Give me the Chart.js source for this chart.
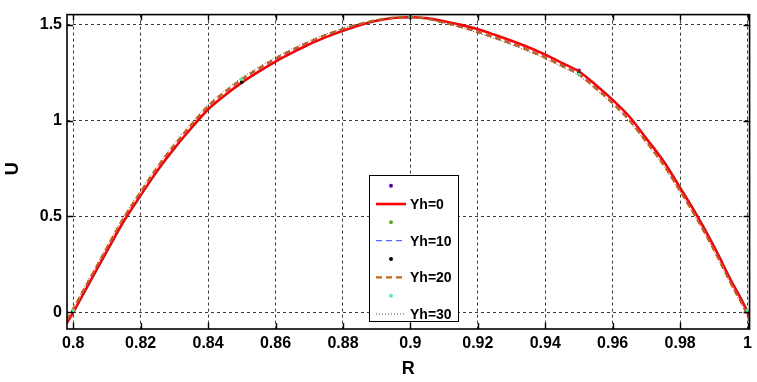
<!DOCTYPE html>
<html><head><meta charset="utf-8">
<script src="https://cdn.jsdelivr.net/npm/chart.js@4/dist/chart.umd.min.js"></script>
<style>html,body{margin:0;padding:0;background:#fff;} #wrap{width:757px;height:382px;}</style>
</head><body><div id="wrap"><canvas id="c" width="757" height="382"></canvas></div>
<script>
// ---- data ----
const xR = [0.79815,0.8,0.805,0.81,0.815,0.82,0.825,0.83,0.835,0.84,0.845,0.85,0.855,0.86,0.865,0.87,0.875,0.88,0.885,0.89,0.895,0.9,0.905,0.91,0.915,0.92,0.925,0.93,0.935,0.94,0.945,0.95,0.955,0.96,0.965,0.97,0.975,0.98,0.985,0.99,0.995,1.0,1.0006];
const uYh0  = [-0.055,0,0.16,0.32,0.475,0.61,0.74,0.855,0.96,1.058,1.132,1.198,1.255,1.308,1.354,1.398,1.435,1.468,1.497,1.52,1.535,1.539,1.534,1.518,1.499,1.476,1.447,1.416,1.382,1.344,1.3,1.256,1.186,1.108,1.02,0.906,0.79,0.65,0.505,0.345,0.17,0,-0.03];
const uYh10 = [-0.045,0.012,0.172,0.332,0.488,0.622,0.752,0.867,0.972,1.07,1.144,1.21,1.266,1.318,1.363,1.406,1.442,1.474,1.501,1.522,1.536,1.539,1.531,1.512,1.491,1.466,1.436,1.405,1.371,1.333,1.29,1.246,1.174,1.096,1.006,0.893,0.776,0.637,0.492,0.332,0.157,-0.012,-0.042];
const uYh20 = [-0.04,0.018,0.178,0.338,0.494,0.628,0.758,0.873,0.978,1.076,1.15,1.216,1.272,1.324,1.369,1.411,1.447,1.478,1.504,1.524,1.537,1.539,1.53,1.51,1.488,1.462,1.432,1.401,1.366,1.328,1.285,1.24,1.168,1.09,1.0,0.888,0.771,0.632,0.487,0.327,0.152,-0.018,-0.048];
const uYh30 = [-0.03,0.026,0.186,0.346,0.502,0.636,0.766,0.881,0.986,1.084,1.158,1.224,1.279,1.33,1.375,1.416,1.451,1.481,1.506,1.525,1.537,1.539,1.528,1.507,1.484,1.457,1.427,1.395,1.36,1.322,1.279,1.234,1.162,1.084,0.994,0.882,0.765,0.626,0.481,0.321,0.146,-0.024,-0.054];
const dotX = [0.8,0.85,0.9,0.95,1.0];
const dotA = [0.005,1.205,1.539,1.262,0.005];
const dotB = [0.008,1.21,1.541,1.25,0.008];
const dotC = [0.004,1.2,1.538,1.248,0.004];
const dotD = [0.01,1.216,1.54,1.241,0.01];
const xTicks = [0.8,0.82,0.84,0.86,0.88,0.9,0.92,0.94,0.96,0.98,1.0];
const xTickLabels = ['0.8','0.82','0.84','0.86','0.88','0.9','0.92','0.94','0.96','0.98','1'];
const yTicks = [0,0.5,1,1.5];
const yTickLabels = ['0','0.5','1','1.5'];
const legendLabels = ['','Yh=0','','Yh=10','','Yh=20','','Yh=30'];
const xTitle = 'R', yTitle = 'U';

const FONT = '"Liberation Sans", Arial, Helvetica, sans-serif';
const pts = (xs, ys) => xs.map((x, i) => ({x, y: ys[i]}));

const lineDs = (label, ys, color, width, dash, order) => ({
  label, data: pts(xR, ys), showLine: true, pointRadius: 0, borderColor: color,
  borderWidth: width, borderDash: dash, fill: false, cubicInterpolationMode: 'monotone', order, kind: 'line'
});
const dotDs = (ys, color, order) => ({
  label: '', data: pts(dotX, ys), showLine: false, pointRadius: 1.8, pointBorderWidth: 0,
  pointBackgroundColor: color, backgroundColor: color, borderColor: color, order, kind: 'dot'
});

const datasets = [
  dotDs(dotA, '#5a00b4', 8),
  lineDs(legendLabels[1], uYh0, '#ff0000', 2.6, [], 7),
  dotDs(dotB, '#5fa81e', 6),
  lineDs(legendLabels[3], uYh10, '#2a4dff', 1, [6, 4], 5),
  dotDs(dotC, '#000000', 4),
  lineDs(legendLabels[5], uYh20, '#c0661a', 2.2, [6, 4], 3),
  dotDs(dotD, '#55f0a8', 2),
  lineDs(legendLabels[7], uYh30, '#555555', 1, [1, 2], 1)
];

const framePlugin = {
  id: 'frame',
  afterDraw(chart) {
    const {ctx, chartArea: a, scales} = chart;
    ctx.save();
    ctx.strokeStyle = '#000'; ctx.lineWidth = 1.6; ctx.setLineDash([]);
    ctx.strokeRect(a.left, a.top, a.right - a.left, a.bottom - a.top);
    ctx.lineWidth = 1.4;
    const tl = 6;
    ctx.beginPath();
    xTicks.forEach(v => {
      const px = Math.round(scales.x.getPixelForValue(v)) + 0.5;
      ctx.moveTo(px, a.bottom); ctx.lineTo(px, a.bottom - tl);
      ctx.moveTo(px, a.top); ctx.lineTo(px, a.top + tl);
    });
    yTicks.forEach(v => {
      const py = Math.round(scales.y.getPixelForValue(v)) + 0.5;
      ctx.moveTo(a.left, py); ctx.lineTo(a.left + tl, py);
      ctx.moveTo(a.right, py); ctx.lineTo(a.right - tl, py);
    });
    ctx.stroke();
    ctx.fillStyle = '#000';
    ctx.font = 'bold 18px ' + FONT;
    ctx.textAlign = 'center'; ctx.textBaseline = 'middle';
    ctx.fillText(xTitle, (a.left + a.right) / 2, 369);
    ctx.save();
    ctx.translate(13, (a.top + a.bottom) / 2 - 3);
    ctx.rotate(-Math.PI / 2);
    ctx.fillText(yTitle, 0, 0);
    ctx.restore();
    const bx = 369.5, by = 175.5, bw = 89, bh = 146;
    ctx.fillStyle = '#fff';
    ctx.fillRect(bx, by, bw, bh);
    ctx.strokeStyle = '#000'; ctx.lineWidth = 1;
    ctx.strokeRect(bx, by, bw, bh);
    ctx.font = 'bold 14px ' + FONT;
    ctx.textAlign = 'left'; ctx.textBaseline = 'middle';
    chart.data.datasets.forEach((ds, i) => {
      const ry = 185.7 + i * 18.33;
      if (ds.kind === 'line') {
        ctx.strokeStyle = ds.borderColor; ctx.lineWidth = ds.borderWidth;
        ctx.setLineDash(ds.borderDash || []);
        ctx.beginPath(); ctx.moveTo(376, ry); ctx.lineTo(406, ry); ctx.stroke();
        ctx.setLineDash([]);
      } else {
        ctx.fillStyle = ds.pointBackgroundColor;
        ctx.beginPath(); ctx.arc(391, ry, 2, 0, Math.PI * 2); ctx.fill();
      }
      if (legendLabels[i]) {
        ctx.fillStyle = '#000';
        ctx.fillText(legendLabels[i], 410, ry + 1);
      }
    });
    ctx.restore();
  }
};

new Chart(document.getElementById('c'), {
  type: 'scatter',
  data: {datasets},
  options: {
    responsive: false, animation: false, devicePixelRatio: 1,
    layout: {padding: {left: 0, top: 8, right: 2, bottom: 0}},
    plugins: {legend: {display: false}, tooltip: {enabled: false}},
    scales: {
      x: {
        type: 'linear', position: 'bottom', min: 0.79815, max: 1.0006,
        afterBuildTicks: s => { s.ticks = xTicks.map(v => ({value: v})); },
        afterFit: s => { s.height = 53; },
        ticks: {callback: (v, i) => xTickLabels[i], font: {family: FONT, size: 16, weight: 'bold'}, color: '#000', padding: 5, maxRotation: 0, autoSkip: false},
        grid: {color: '#3a3a3a', lineWidth: 1, drawTicks: false},
        border: {display: false, dash: [3, 3]}
      },
      y: {
        type: 'linear', position: 'left', min: -0.0867, max: 1.5526,
        afterBuildTicks: s => { s.ticks = yTicks.map(v => ({value: v})); },
        afterFit: s => { s.width = 67; },
        ticks: {callback: (v, i) => yTickLabels[i], font: {family: FONT, size: 16, weight: 'bold'}, color: '#000', padding: 5, autoSkip: false},
        grid: {color: '#3a3a3a', lineWidth: 1, drawTicks: false},
        border: {display: false, dash: [3, 3]}
      }
    }
  },
  plugins: [framePlugin]
});
</script></body></html>
